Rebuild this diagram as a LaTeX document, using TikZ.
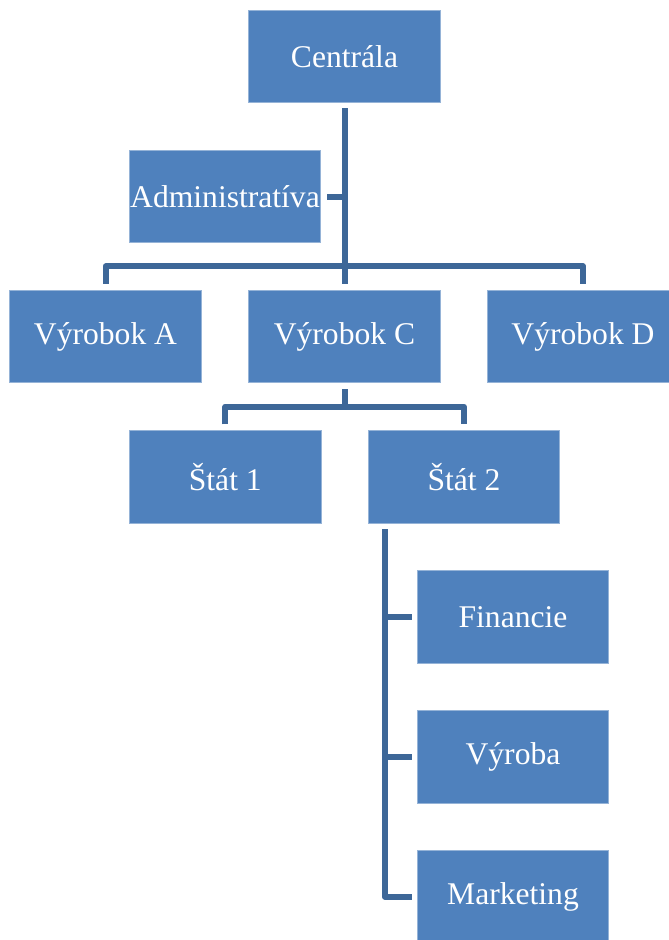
\documentclass[tikz,border=0pt]{standalone}
\usepackage{fontspec}
\setmainfont{Liberation Serif}
\usetikzlibrary{calc}
\definecolor{boxblue}{HTML}{4F81BD}
\definecolor{linkblue}{HTML}{3D6798}
\begin{document}
\begin{tikzpicture}[x=1pt,y=-1pt,
  orgbox/.style={fill=boxblue, draw=boxblue!60!white, line width=0.6pt,
    minimum width=191.5pt, minimum height=92.5pt, inner sep=0pt,
    text=white, font=\fontsize{31.6}{36}\selectfont},
  conn/.style={draw=linkblue, line width=6pt, line join=round}]
\useasboundingbox (0,0) rectangle (669,940);
\clip (0,0) rectangle (669,940);

% boxes
\node[orgbox] (cen) at (344.5,56.5) {Centrála};
\node[orgbox] (adm) at (225,196.5) {Administratíva};
\node[orgbox] (vA)  at (105.5,336.5) {Výrobok A};
\node[orgbox] (vC)  at (344.5,336.5) {Výrobok C};
\node[orgbox] (vD)  at (583,336.5) {Výrobok D};
\node[orgbox] (s1)  at (225.3,476.8) {Štát 1};
\node[orgbox] (s2)  at (464,476.8) {Štát 2};
\node[orgbox] (fin) at (513,616.8) {Financie};
\node[orgbox] (vyr) at (513,756.8) {Výroba};
\node[orgbox] (mkt) at (513,896.8) {Marketing};

% headquarters trunk and assistant
\draw[conn] ($(cen.south)+(0,5)$) -- ($(vC.north)+(0,-6)$);
\draw[conn] ($(adm.east)+(6,0)$) -- (adm.east -| cen.south);
\draw[conn] ($(vA.north)+(0,-6)$) -- ++(0,-17.5) -| ($(vD.north)+(0,-6)$);

% product C branches
\draw[conn] ($(vC.south)+(0,6)$) -- ++(0,18);
\draw[conn] ($(s1.north)+(0,-6)$) -- ++(0,-17.5) -| ($(s2.north)+(0,-6)$);

% state 2 departments
\coordinate (sp) at ($(s2.south west)+(17,6)$);
\draw[conn] (sp) |- ($(mkt.west)+(-5,0)$);
\draw[conn] (fin.west -| sp) -- ($(fin.west)+(-5,0)$);
\draw[conn] (vyr.west -| sp) -- ($(vyr.west)+(-5,0)$);
\end{tikzpicture}
\end{document}
